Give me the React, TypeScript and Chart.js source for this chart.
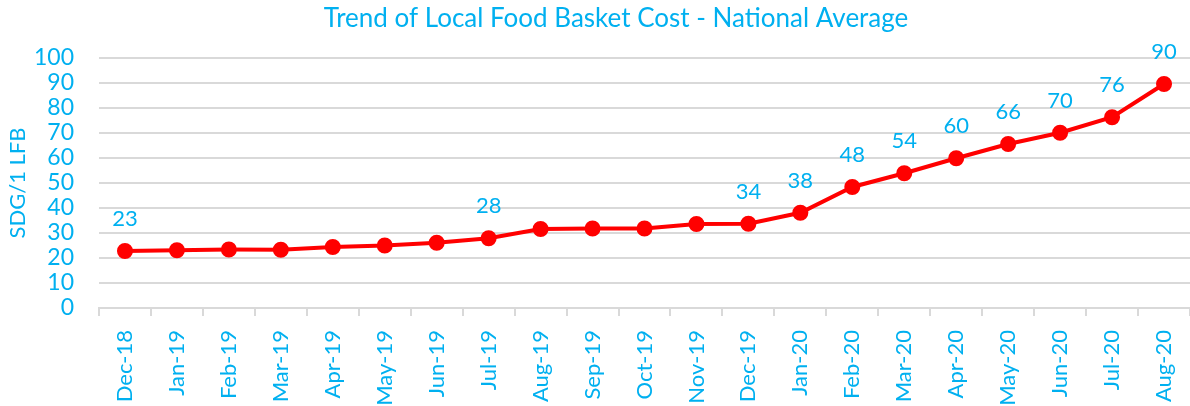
import React, { useEffect, useRef } from "react";
import { Chart, registerables } from "chart.js";

Chart.register(...registerables);

const categories = [
  "Dec-18", "Jan-19", "Feb-19", "Mar-19", "Apr-19", "May-19", "Jun-19", "Jul-19",
  "Aug-19", "Sep-19", "Oct-19", "Nov-19", "Dec-19", "Jan-20", "Feb-20", "Mar-20",
  "Apr-20", "May-20", "Jun-20", "Jul-20", "Aug-20",
];

const costValues = [
  22.8, 23.1, 23.4, 23.3, 24.4, 25.0, 26.1, 27.9,
  31.6, 31.8, 31.8, 33.6, 33.7, 38.1, 48.4, 53.9,
  59.9, 65.6, 70.1, 76.3, 89.6,
];

const showValueLabel = [
  true, false, false, false, false, false, false, true,
  false, false, false, false, true, true, true, true,
  true, true, true, true, true,
];

const chartTitle = "Trend of Local Food Basket Cost - National Average";
const yAxisTitle = "SDG/1 LFB";

const BLUE = "#00B0F0";
const RED = "#FF0000";
const GRID = "#D9D9D9";
const FONT = "Lato";

const titlePlugin = {
  id: "customTitle",
  afterDraw(chart: any) {
    const ctx = chart.ctx;
    ctx.save();
    ctx.font = `26px ${FONT}`;
    ctx.fillStyle = BLUE;
    ctx.textAlign = "center";
    ctx.textBaseline = "middle";
    ctx.fillText(chartTitle, 616, 19);
    ctx.restore();
  },
};

const valueLabelPlugin = {
  id: "valueLabels",
  afterDatasetsDraw(chart: any) {
    const ctx = chart.ctx;
    const meta = chart.getDatasetMeta(0);
    ctx.save();
    ctx.font = `22px ${FONT}`;
    ctx.fillStyle = BLUE;
    ctx.textAlign = "center";
    ctx.textBaseline = "middle";
    meta.data.forEach((pt: any, i: number) => {
      if (!showValueLabel[i]) return;
      ctx.fillText(String(Math.round(costValues[i])), pt.x, pt.y - 32);
    });
    ctx.restore();
  },
};

export default function App() {
  const ref = useRef<HTMLCanvasElement>(null);

  useEffect(() => {
    document.body.style.margin = "0";
    const chart = new Chart(ref.current as HTMLCanvasElement, {
      type: "line",
      data: {
        labels: categories,
        datasets: [
          {
            data: costValues,
            borderColor: RED,
            backgroundColor: RED,
            borderWidth: 4,
            pointRadius: 6,
            pointHoverRadius: 6,
            pointBackgroundColor: RED,
            pointBorderColor: RED,
            tension: 0,
            fill: false,
            clip: false,
          },
        ],
      },
      options: {
        responsive: false,
        animation: false,
        layout: { autoPadding: false, padding: { top: 58, left: 0, right: 0, bottom: 0 } },
        plugins: {
          legend: { display: false },
          title: { display: false },
          tooltip: { enabled: false },
        },
        scales: {
          x: {
            type: "category",
            offset: true,
            grid: {
              offset: true,
              drawOnChartArea: false,
              drawTicks: true,
              tickLength: 8,
              color: GRID,
              lineWidth: 2,
            },
            border: { display: true, color: GRID, width: 2 },
            ticks: {
              color: BLUE,
              font: { family: FONT, size: 22 },
              minRotation: 90,
              maxRotation: 90,
              autoSkip: false,
              padding: 14,
            },
            afterFit(scale: any) {
              scale.height = 98;
              scale.paddingLeft = 0;
              scale.paddingRight = 0;
            },
          },
          y: {
            min: 0,
            max: 100,
            grid: {
              color: GRID,
              lineWidth: 2,
              drawTicks: false,
            },
            border: { display: false },
            ticks: {
              stepSize: 10,
              autoSkip: false,
              color: BLUE,
              font: { family: FONT, size: 23 },
              padding: 25,
            },
            title: {
              display: true,
              text: yAxisTitle,
              color: BLUE,
              font: { family: FONT, size: 22 },
              padding: { top: 5, bottom: 0 },
            },
            afterFit(scale: any) {
              scale.width = 99;
            },
          },
        },
      },
      plugins: [titlePlugin, valueLabelPlugin],
    });
    return () => chart.destroy();
  }, []);

  return (
    <div style={{ position: "absolute", left: 0, top: 0, width: 1190, height: 406 }}>
      <canvas ref={ref} width={1190} height={406} />
    </div>
  );
}
